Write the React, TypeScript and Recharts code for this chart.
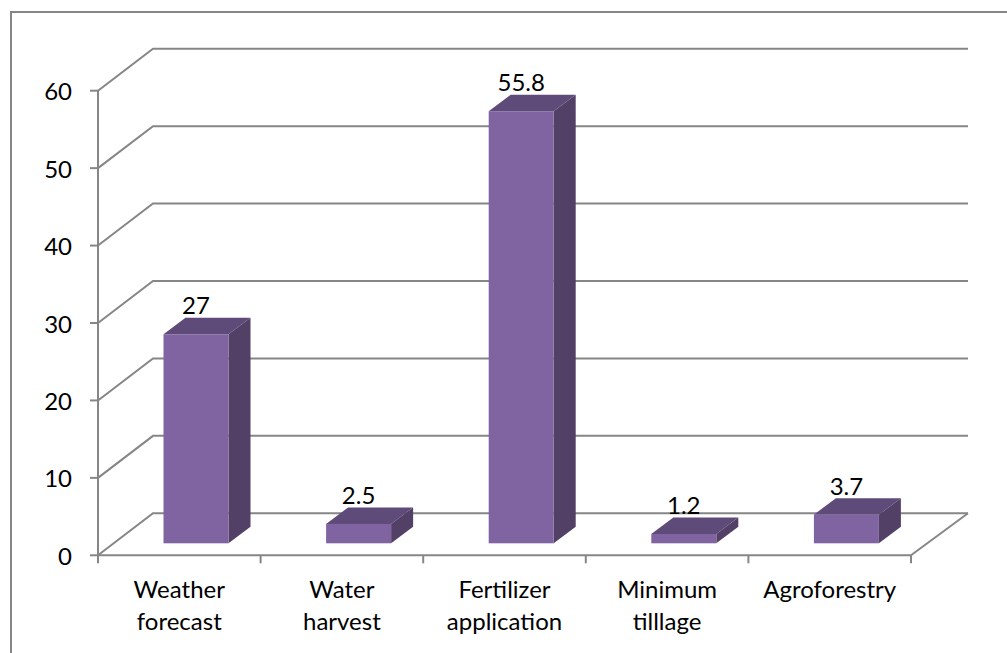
import { BarChart, Bar, XAxis, YAxis, CartesianGrid, LabelList } from "recharts";

const CATEGORIES = [
  ["Weather", "forecast"],
  ["Water", "harvest"],
  ["Fertilizer", "application"],
  ["Minimum", "tilllage"],
  ["Agroforestry"],
];
const VALUES = [27, 2.5, 55.8, 1.2, 3.7];
const Y_TICKS = [0, 10, 20, 30, 40, 50, 60];

const chartData = CATEGORIES.map((lines, i) => ({
  name: lines.join(" "),
  value: VALUES[i],
}));

const FONT = "Lato, sans-serif";
const TEXT_SIZE = 24;
const GRID = "#868686";

const PLOT_TOP = 90.7;
const PLOT_BOTTOM = 555.3;

// floor depth of the fake 3D box
const DEPTH_X = 55;
const DEPTH_Y = 42;
// depth of a single bar and how far it stands in from the front edge
const BAR_DX = 22;
const BAR_DY = 16.5;
const INSET_X = 16.5;
const INSET_Y = 12;

function WallLine(props: any) {
  const { x1, x2, y1, key } = props;
  const backY = y1 - DEPTH_Y;
  const backX = x2 + DEPTH_X + 2;
  return (
    <g key={key}>
      <polyline
        points={`${x1},${y1} ${x1 + DEPTH_X},${backY} ${backX},${backY}`}
        fill="none"
        stroke={GRID}
        strokeWidth={2}
      />
      {/* right edge of the floor */}
      {Math.abs(y1 - PLOT_BOTTOM) < 1 && (
        <line x1={x2} y1={y1} x2={backX} y2={backY} stroke={GRID} strokeWidth={2} />
      )}
    </g>
  );
}

function Bar3D(props: any) {
  const { x, y, width, height } = props;
  const left = x + INSET_X;
  const right = left + width;
  const top = y - INSET_Y;
  const bottom = top + height;
  return (
    <g>
      <polygon
        points={`${left},${top} ${left + BAR_DX},${top - BAR_DY} ${right + BAR_DX},${top - BAR_DY} ${right},${top}`}
        fill="#5f4b79"
      />
      <polygon
        points={`${right},${top} ${right + BAR_DX},${top - BAR_DY} ${right + BAR_DX},${bottom - BAR_DY} ${right},${bottom}`}
        fill="#534066"
      />
      <rect x={left} y={top} width={width} height={height} fill="#8064a2" />
    </g>
  );
}

function BarValue(props: any) {
  const { x, y, width, value } = props;
  return (
    <text
      x={x + INSET_X + width / 2}
      y={y - INSET_Y - BAR_DY - 3.5}
      textAnchor="middle"
      fontFamily={FONT}
      fontSize={TEXT_SIZE}
      fill="#000"
    >
      {value}
    </text>
  );
}

function CategoryTick(props: any) {
  const { x, y, width, payload, index } = props;
  const band = width / CATEGORIES.length;
  const lines = CATEGORIES[index] || [payload.value];
  return (
    <g>
      <line x1={x - band / 2} y1={y - 10} x2={x - band / 2} y2={y - 2} stroke={GRID} strokeWidth={2} />
      {index === CATEGORIES.length - 1 && (
        <line x1={x + band / 2} y1={y - 10} x2={x + band / 2} y2={y - 2} stroke={GRID} strokeWidth={2} />
      )}
      {lines.map((line: string, i: number) => (
        <text
          key={line}
          x={x}
          y={y + 33 + i * 32}
          textAnchor="middle"
          fontFamily={FONT}
          fontSize={TEXT_SIZE}
          fill="#000"
        >
          {line}
        </text>
      ))}
    </g>
  );
}

export default function App() {
  return (
    <div style={{ position: "absolute", left: 0, top: 0, width: 1007, height: 653, overflow: "hidden", background: "#fff" }}>
      <div
        style={{
          position: "absolute",
          left: 10,
          top: 11,
          width: 1100,
          height: 800,
          borderLeft: `2px solid ${GRID}`,
          borderTop: `2px solid ${GRID}`,
        }}
      />
      <div style={{ position: "absolute", left: 0, top: 0 }}>
        <BarChart
          width={1007}
          height={653}
          data={chartData}
          margin={{ top: PLOT_TOP, right: 96, bottom: 653 - PLOT_BOTTOM - 50, left: 28 }}
          barSize={65}
        >
          <CartesianGrid vertical={false} horizontal={WallLine} />
          <XAxis
            dataKey="name"
            interval={0}
            height={50}
            axisLine={{ stroke: GRID, strokeWidth: 2 }}
            tickLine={false}
            tick={CategoryTick}
            tickSize={8}
          />
          <YAxis
            type="number"
            domain={[0, 60]}
            ticks={Y_TICKS}
            width={70}
            axisLine={{ stroke: GRID, strokeWidth: 2 }}
            tickLine={{ stroke: GRID, strokeWidth: 2 }}
            tickSize={8}
            tickMargin={18}
            tick={{ fontFamily: FONT, fontSize: TEXT_SIZE, fill: "#000", dy: 1 }}
          />
          <Bar dataKey="value" shape={Bar3D} isAnimationActive={false}>
            <LabelList dataKey="value" content={BarValue} />
          </Bar>
        </BarChart>
      </div>
    </div>
  );
}
